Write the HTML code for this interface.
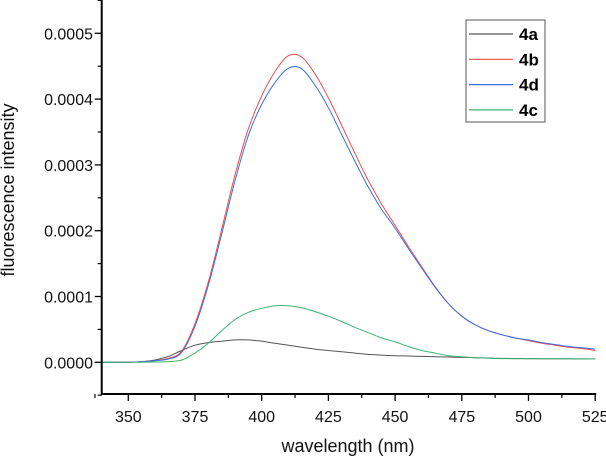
<!DOCTYPE html>
<html><head><meta charset="utf-8"><style>
body{margin:0;background:#fff;}
svg{display:block;font-family:"Liberation Sans",Arial,sans-serif;}
</style></head><body>
<svg id="chart" width="606" height="457" viewBox="0 0 606 457"></svg>
<script>
const wavelengths=[340,345,350,355,360,365,370,375,380,385,390,395,400,405,410,415,420,425,430,435,440,445,450,455,460,465,470,475,480,485,490,495,500,505,510,515,520,525];
const s4a=[0,0,0.002,0.01,0.035,0.09,0.18,0.26,0.30,0.32,0.34,0.34,0.32,0.29,0.26,0.23,0.20,0.18,0.16,0.14,0.12,0.11,0.10,0.095,0.09,0.085,0.08,0.075,0.07,0.065,0.06,0.058,0.056,0.055,0.054,0.053,0.052,0.052];
const s4b=[0,0,0.002,0.008,0.025,0.06,0.17,0.59,1.22,2.02,2.85,3.55,4.05,4.42,4.66,4.64,4.38,4.02,3.60,3.17,2.76,2.40,2.08,1.76,1.45,1.15,0.89,0.70,0.57,0.48,0.42,0.37,0.33,0.29,0.26,0.23,0.21,0.18];
const s4d=[0,0,0.002,0.008,0.025,0.05,0.15,0.55,1.17,1.95,2.76,3.45,3.92,4.25,4.47,4.46,4.21,3.87,3.46,3.05,2.66,2.32,2.04,1.73,1.43,1.14,0.89,0.70,0.57,0.48,0.42,0.37,0.34,0.30,0.27,0.24,0.22,0.20];
const s4c=[0,0,0,0.002,0.005,0.01,0.035,0.14,0.29,0.48,0.65,0.76,0.82,0.86,0.86,0.83,0.77,0.70,0.62,0.53,0.45,0.37,0.31,0.24,0.18,0.14,0.10,0.085,0.07,0.062,0.056,0.055,0.055,0.054,0.053,0.052,0.051,0.05];
const xTicks=[350,375,400,425,450,475,500,525];
const yTicks=[0,0.0001,0.0002,0.0003,0.0004,0.0005];
const yTickLabels=["0.0000","0.0001","0.0002","0.0003","0.0004","0.0005"];
const seriesNames=["4a","4b","4d","4c"];
const seriesColors=["#555555","#f04a4a","#3d6fe8","#3cb371"];
const seriesData=[s4a,s4b,s4d,s4c];

const NS="http://www.w3.org/2000/svg";
const svg=document.getElementById('chart');
const X0=101.7,Y0=394,Y1=0;
function xs(v){return 128.3+(v-350)*66.7/25;}
function ys(v){return 362.3-v*658000;}
function mk(t,a,p){const e=document.createElementNS(NS,t);for(const k in a)e.setAttribute(k,a[k]);(p||svg).appendChild(e);return e;}
function smooth(P){
  let d=`M${P[0][0].toFixed(1)},${P[0][1].toFixed(1)}`;
  for(let i=0;i<P.length-1;i++){
    const p0=P[Math.max(0,i-1)],p1=P[i],p2=P[i+1],p3=P[Math.min(P.length-1,i+2)];
    const c1=[p1[0]+(p2[0]-p0[0])/6,p1[1]+(p2[1]-p0[1])/6];
    const c2=[p2[0]-(p3[0]-p1[0])/6,p2[1]-(p3[1]-p1[1])/6];
    d+=` C${c1[0].toFixed(1)},${c1[1].toFixed(1)} ${c2[0].toFixed(1)},${c2[1].toFixed(1)} ${p2[0].toFixed(1)},${p2[1].toFixed(1)}`;
  }
  return d;
}

seriesData.forEach((d,i)=>{
  const P=d.map((v,j)=>[xs(wavelengths[j]),ys(v*1e-4)]);
  const pl=mk('path',{d:smooth(P),fill:'none',stroke:seriesColors[i],'stroke-width':1});
  
  
});

const ax=mk('path',{d:`M${X0},${Y1} V${Y0} H${xs(525)+1}`,fill:'none',stroke:'#000','stroke-width':2});



xTicks.forEach(t=>{
  const x=xs(t);
  mk('line',{x1:x,x2:x,y1:Y0,y2:Y0+7,stroke:'#000','stroke-width':1.3});
  if(t<525) mk('line',{x1:xs(t+12.5),x2:xs(t+12.5),y1:Y0,y2:Y0+4,stroke:'#000','stroke-width':1.2});
  const tx=mk('text',{x:x,y:422,'text-anchor':'middle','font-size':16,fill:'#111'});
  tx.textContent=t;
  
  
});
mk('line',{x1:xs(337.5),x2:xs(337.5),y1:Y0,y2:Y0+4,stroke:'#000','stroke-width':1.2});
yTicks.forEach((t,i)=>{
  const y=ys(t);
  mk('line',{x1:X0-7,x2:X0,y1:y,y2:y,stroke:'#000','stroke-width':1.3});
  mk('line',{x1:X0-4,x2:X0,y1:ys(t+0.00005),y2:ys(t+0.00005),stroke:'#000','stroke-width':1.2});
  if(i==0) mk('line',{x1:X0-4,x2:X0,y1:ys(-0.00005),y2:ys(-0.00005),stroke:'#000','stroke-width':1.2});
  const tx=mk('text',{x:93,y:y+6,'text-anchor':'end','font-size':16,fill:'#111'});
  tx.textContent=yTickLabels[i];
  
  
});
const xt=mk('text',{x:348,y:452,'text-anchor':'middle','font-size':18,fill:'#111'});
xt.textContent='wavelength (nm)';


const yt=mk('text',{x:0,y:0,'text-anchor':'middle','font-size':18,fill:'#111',transform:'translate(14,190) rotate(-90)'});
yt.textContent='fluorescence intensity';



const lg=mk('g',{});


mk('rect',{x:466,y:20,width:79,height:102,fill:'#fff',stroke:'#555','stroke-width':1},lg);
seriesNames.forEach((n,i)=>{
  const y=34+i*25.3;
  const g=mk('g',{},lg);
  
  
  mk('line',{x1:469,x2:513,y1:y,y2:y,stroke:seriesColors[i],'stroke-width':1.2},g);
  const t=mk('text',{x:519,y:y+6,'font-size':17,'font-weight':'bold',fill:'#000'},g);
  t.textContent=n;
});
</script>
</body></html>
